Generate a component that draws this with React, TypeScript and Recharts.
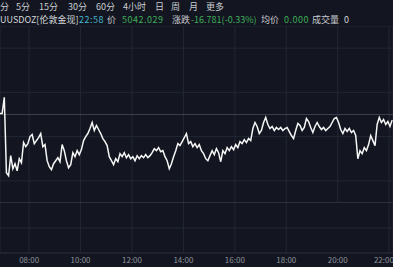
import React from 'react';
import { LineChart, Line, XAxis, YAxis, CartesianGrid, ReferenceLine } from 'recharts';

// minutes since midnight for the first sample, and sample spacing
const START_MIN = 412;
const STEP_MIN = 5;

const prices = [
  5062, 5062, 5110, 4885, 4876, 4936, 4897, 4912, 4891, 4927,
  4915, 4975, 4963, 4972, 4993, 4999, 4972, 4981, 4990, 5002,
  4963, 4969, 4921, 4903, 4894, 4912, 4921, 4930, 4918, 4969,
  4951, 4921, 4900, 4909, 4945, 4933, 4951, 4939, 4954, 4981,
  4993, 5002, 5017, 5035, 5011, 5026, 5014, 5002, 4987, 4978,
  4966, 4933, 4921, 4909, 4927, 4918, 4942, 4933, 4945, 4930,
  4939, 4927, 4933, 4921, 4936, 4927, 4936, 4930, 4939, 4930,
  4936, 4945, 4957, 4951, 4960, 4948, 4951, 4933, 4921, 4897,
  4912, 4933, 4951, 4972, 4966, 4978, 4990, 5002, 4972, 4978,
  4963, 4972, 4960, 4969, 4951, 4942, 4927, 4921, 4936, 4951,
  4939, 4957, 4945, 4918, 4951, 4942, 4960, 4951, 4963, 4954,
  4969, 4960, 4978, 4972, 4984, 4975, 4987, 4981, 5017, 5035,
  5023, 5002, 5011, 5035, 5050, 5029, 5017, 5023, 5011, 5020,
  5014, 5020, 5011, 5017, 5020, 5008, 4996, 4987, 5011, 5032,
  5026, 5011, 5020, 5047, 5038, 5020, 5005, 5023, 5035, 5023,
  5014, 5020, 5011, 5017, 5023, 5035, 5047, 5050, 5035, 5014,
  5002, 5017, 5008, 5017, 5005, 5011, 4996, 4927, 4951, 4942,
  4960, 4951, 4969, 4996, 4981, 4966, 5029, 5050, 5035, 5044,
  5029, 5038, 5023, 5042.029,
];

const prevClose = 5058.81;
const gridStep = 66;
const timeTicks = [480, 600, 720, 840, 960, 1080, 1200, 1320];
const timeDomain = [412, 1329];

const toolbarItems = [
  { label: '分', x: 0 },
  { label: '5分', x: 16 },
  { label: '15分', x: 39 },
  { label: '30分', x: 68 },
  { label: '60分', x: 96 },
  { label: '4小时', x: 123 },
  { label: '日', x: 155 },
  { label: '周', x: 171 },
  { label: '月', x: 189 },
  { label: '更多', x: 206 },
];

const quoteItems = [
  { text: 'UUSDOZ[伦敦金现]', x: 0, color: '#d4d6da', num: false },
  { text: '22:58', x: 79, color: '#45b4cc', num: true },
  { text: '价', x: 107, color: '#c8cacf', num: false },
  { text: '5042.029', x: 122, color: '#3fae5a', num: true },
  { text: '涨跌', x: 172, color: '#c8cacf', num: false },
  { text: '-16.781(-0.33%)', x: 191, color: '#3fae5a', num: false },
  { text: '均价', x: 261, color: '#c8cacf', num: false },
  { text: '0.000', x: 284, color: '#3fae5a', num: true },
  { text: '成交量', x: 312, color: '#c8cacf', num: false },
  { text: '0', x: 344, color: '#d4d6da', num: false },
];

const data = prices.map((p, i) => ({ t: START_MIN + i * STEP_MIN, price: p }));

const fmtTime = (m: number) => {
  const h = Math.floor(m / 60);
  const mm = m % 60;
  return `${String(h).padStart(2, '0')}:${String(mm).padStart(2, '0')}`;
};

const font = '"Noto Sans CJK SC", "Noto Sans", sans-serif';
const gridColor = '#222734';
const strongColor = '#3b404c';

export default function App() {
  const yTicks = [-3, -2, -1, 1, 2, 3].map(n => prevClose + n * gridStep);
  const yDomain = [prevClose - 4 * gridStep, prevClose + 4 * gridStep];

  return (
    <div
      style={{
        position: 'absolute',
        left: 0,
        top: 0,
        width: 393,
        height: 267,
        background: '#131620',
        overflow: 'hidden',
        fontFamily: font,
      }}
    >
      {toolbarItems.map(it => (
        <span
          key={it.label}
          style={{ position: 'absolute', left: it.x, top: 0, fontSize: 9, color: '#c9ccd2', lineHeight: '13px', whiteSpace: 'nowrap' }}
        >
          {it.label}
        </span>
      ))}
      {quoteItems.map(it => (
        <span
          key={it.text}
          style={{
            position: 'absolute',
            left: it.x,
            top: 13,
            fontSize: 9,
            color: it.color,
            lineHeight: '13px',
            whiteSpace: 'nowrap',
            letterSpacing: it.num ? 0.5 : 0,
          }}
        >
          {it.text}
        </span>
      ))}

      <div style={{ position: 'absolute', left: 0, top: 26 }}>
        <LineChart width={393} height={177} data={data} margin={{ top: 0, right: 0, bottom: 0, left: 0 }}>
          <CartesianGrid stroke={gridColor} strokeWidth={1} />
          <XAxis dataKey="t" type="number" domain={timeDomain} ticks={timeTicks} hide allowDataOverflow />
          <YAxis type="number" domain={yDomain} ticks={yTicks} hide allowDataOverflow />
          <ReferenceLine y={prevClose} stroke={strongColor} strokeWidth={1} />
          <ReferenceLine y={yDomain[0]} stroke={strongColor} strokeWidth={1} />
          <Line
            type="linear"
            dataKey="price"
            stroke="#f6f6f6"
            strokeWidth={1.5}
            dot={false}
            isAnimationActive={false}
          />
        </LineChart>
      </div>

      <div style={{ position: 'absolute', left: 0, top: 203 }}>
        <LineChart width={393} height={64} data={data} margin={{ top: 0, right: 0, bottom: 0, left: 0 }}>
          <CartesianGrid stroke={gridColor} strokeWidth={1} horizontalPoints={[25]} />
          <XAxis
            dataKey="t"
            type="number"
            domain={timeDomain}
            ticks={timeTicks}
            tickFormatter={fmtTime}
            height={14}
            axisLine={{ stroke: '#2c313d' }}
            tickLine={false}
            tick={{ fontSize: 8, fill: '#8d929c', fontFamily: font, dy: -3 }}
            tickMargin={1}
            allowDataOverflow
          />
          <YAxis type="number" domain={[0, 1]} hide />
        </LineChart>
      </div>
    </div>
  );
}
